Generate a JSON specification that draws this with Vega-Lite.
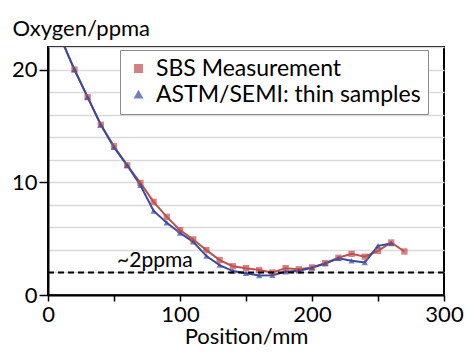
{
  "$schema": "https://vega.github.io/schema/vega-lite/v6.json",
  "width": 396,
  "height": 248,
  "autosize": "none",
  "padding": {"left": 48, "top": 47, "right": 28, "bottom": 59},
  "background": "white",
  "config": {
    "font": "Lato",
    "view": {"stroke": "#000000", "strokeWidth": 2}
  },
  "data": {
    "values": [
      {"position": 10, "oxygen": 22.7, "series": "SBS Measurement"},
      {"position": 20, "oxygen": 20.0, "series": "SBS Measurement"},
      {"position": 30, "oxygen": 17.55, "series": "SBS Measurement"},
      {"position": 40, "oxygen": 15.1, "series": "SBS Measurement"},
      {"position": 50, "oxygen": 13.2, "series": "SBS Measurement"},
      {"position": 60, "oxygen": 11.5, "series": "SBS Measurement"},
      {"position": 70, "oxygen": 9.94, "series": "SBS Measurement"},
      {"position": 80, "oxygen": 8.26, "series": "SBS Measurement"},
      {"position": 90, "oxygen": 6.93, "series": "SBS Measurement"},
      {"position": 100, "oxygen": 5.75, "series": "SBS Measurement"},
      {"position": 110, "oxygen": 4.93, "series": "SBS Measurement"},
      {"position": 120, "oxygen": 3.98, "series": "SBS Measurement"},
      {"position": 130, "oxygen": 3.1, "series": "SBS Measurement"},
      {"position": 140, "oxygen": 2.55, "series": "SBS Measurement"},
      {"position": 150, "oxygen": 2.38, "series": "SBS Measurement"},
      {"position": 160, "oxygen": 2.21, "series": "SBS Measurement"},
      {"position": 170, "oxygen": 2.0, "series": "SBS Measurement"},
      {"position": 180, "oxygen": 2.38, "series": "SBS Measurement"},
      {"position": 190, "oxygen": 2.28, "series": "SBS Measurement"},
      {"position": 200, "oxygen": 2.45, "series": "SBS Measurement"},
      {"position": 210, "oxygen": 2.83, "series": "SBS Measurement"},
      {"position": 220, "oxygen": 3.3, "series": "SBS Measurement"},
      {"position": 230, "oxygen": 3.65, "series": "SBS Measurement"},
      {"position": 240, "oxygen": 3.4, "series": "SBS Measurement"},
      {"position": 250, "oxygen": 3.92, "series": "SBS Measurement"},
      {"position": 260, "oxygen": 4.66, "series": "SBS Measurement"},
      {"position": 270, "oxygen": 3.86, "series": "SBS Measurement"},
      {"position": 10, "oxygen": 22.7, "series": "ASTM/SEMI: thin samples"},
      {"position": 20, "oxygen": 20.0, "series": "ASTM/SEMI: thin samples"},
      {"position": 30, "oxygen": 17.55, "series": "ASTM/SEMI: thin samples"},
      {"position": 40, "oxygen": 15.1, "series": "ASTM/SEMI: thin samples"},
      {"position": 50, "oxygen": 13.1, "series": "ASTM/SEMI: thin samples"},
      {"position": 60, "oxygen": 11.5, "series": "ASTM/SEMI: thin samples"},
      {"position": 70, "oxygen": 9.73, "series": "ASTM/SEMI: thin samples"},
      {"position": 80, "oxygen": 7.46, "series": "ASTM/SEMI: thin samples"},
      {"position": 90, "oxygen": 6.4, "series": "ASTM/SEMI: thin samples"},
      {"position": 100, "oxygen": 5.5, "series": "ASTM/SEMI: thin samples"},
      {"position": 110, "oxygen": 4.72, "series": "ASTM/SEMI: thin samples"},
      {"position": 120, "oxygen": 3.45, "series": "ASTM/SEMI: thin samples"},
      {"position": 130, "oxygen": 2.65, "series": "ASTM/SEMI: thin samples"},
      {"position": 140, "oxygen": 2.12, "series": "ASTM/SEMI: thin samples"},
      {"position": 150, "oxygen": 1.92, "series": "ASTM/SEMI: thin samples"},
      {"position": 160, "oxygen": 1.73, "series": "ASTM/SEMI: thin samples"},
      {"position": 170, "oxygen": 1.75, "series": "ASTM/SEMI: thin samples"},
      {"position": 180, "oxygen": 2.06, "series": "ASTM/SEMI: thin samples"},
      {"position": 190, "oxygen": 2.15, "series": "ASTM/SEMI: thin samples"},
      {"position": 200, "oxygen": 2.42, "series": "ASTM/SEMI: thin samples"},
      {"position": 210, "oxygen": 2.8, "series": "ASTM/SEMI: thin samples"},
      {"position": 220, "oxygen": 3.25, "series": "ASTM/SEMI: thin samples"},
      {"position": 230, "oxygen": 3.04, "series": "ASTM/SEMI: thin samples"},
      {"position": 240, "oxygen": 2.89, "series": "ASTM/SEMI: thin samples"},
      {"position": 250, "oxygen": 4.36, "series": "ASTM/SEMI: thin samples"},
      {"position": 260, "oxygen": 4.57, "series": "ASTM/SEMI: thin samples"}
    ]
  },
  "resolve": {"axis": {"y": "independent"}},
  "encoding": {
    "x": {
      "field": "position",
      "type": "quantitative",
      "scale": {"domain": [0, 300], "nice": false},
      "axis": {
        "values": [0, 50, 100, 150, 200, 250, 300],
        "labelExpr": "datum.value % 100 === 0 ? datum.label : ''",
        "labelOverlap": false,
        "grid": false,
        "domainColor": "#000000",
        "domainWidth": 2,
        "tickColor": "#000000",
        "tickWidth": 1.5,
        "tickSize": 6,
        "labelFontSize": 22,
        "labelColor": "#000000",
        "labelPadding": 3,
        "labelFlush": false,
        "title": "Position/mm",
        "titleFontSize": 22,
        "titleFontWeight": "normal",
        "titleColor": "#000000",
        "titlePadding": 1
      }
    },
    "y": {
      "field": "oxygen",
      "type": "quantitative",
      "scale": {"domain": [0, 22], "nice": false},
      "axis": {
        "orient": "left",
        "values": [0, 2, 4, 6, 8, 10, 12, 14, 16, 18, 20, 22],
        "labels": false,
        "ticks": false,
        "domain": false,
        "gridColor": "#d9d9d9",
        "gridWidth": 1.5,
        "title": null
      }
    },
    "color": {
      "field": "series",
      "type": "nominal",
      "title": null,
      "scale": {"domain": ["SBS Measurement", "ASTM/SEMI: thin samples"], "range": ["#c0504d", "#3a4aa0"]},
      "legend": {
        "orient": "none",
        "legendX": 72,
        "legendY": 3,
        "padding": 7,
        "fillColor": "white",
        "strokeColor": "#8c8c8c",
        "labelFontSize": 23,
        "labelColor": "#000000",
        "labelLimit": 400,
        "labelOffset": 6,
        "symbolSize": 55,
        "rowPadding": 2
      }
    }
  },
  "layer": [
    {
      "mark": {"type": "line", "strokeWidth": 2, "clip": true}
    },
    {
      "mark": {"type": "point", "filled": true, "size": 40, "clip": true},
      "encoding": {
        "y": {
          "field": "oxygen",
          "type": "quantitative",
          "axis": {
            "orient": "left",
            "values": [0, 10, 20],
            "grid": false,
            "labelOverlap": false,
            "domainColor": "#000000",
            "domainWidth": 2,
            "tickColor": "#000000",
            "tickWidth": 1.5,
            "tickSize": 9,
            "labelFontSize": 22,
            "labelColor": "#000000",
            "labelPadding": 2,
            "labelFlush": false,
            "title": "Oxygen/ppma",
            "titleAngle": 0,
            "titleAlign": "left",
            "titleBaseline": "alphabetic",
            "titleX": -36,
            "titleY": -12,
            "titleFontSize": 22,
            "titleFontWeight": "normal",
            "titleColor": "#000000"
          }
        },
        "shape": {
          "field": "series",
          "type": "nominal",
          "title": null,
          "scale": {"domain": ["SBS Measurement", "ASTM/SEMI: thin samples"], "range": ["square", "triangle-up"]},
          "legend": {
            "orient": "none",
            "legendX": 72,
            "legendY": 3,
            "padding": 7,
            "fillColor": "white",
            "strokeColor": "#8c8c8c",
            "labelFontSize": 23,
            "labelColor": "#000000",
            "labelLimit": 400,
            "labelOffset": 6,
            "symbolSize": 55,
            "rowPadding": 2
          }
        }
      }
    },
    {
      "data": {"values": [{"oxygen": 2, "label": "~2ppma", "position": 81}]},
      "mark": {"type": "rule", "strokeDash": [6, 4], "strokeWidth": 2, "color": "#000000"},
      "encoding": {"x": null, "color": null, "y": {"field": "oxygen", "type": "quantitative", "axis": null}}
    },
    {
      "data": {"values": [{"oxygen": 2, "label": "~2ppma", "position": 81}]},
      "mark": {"type": "text", "fontSize": 21, "baseline": "bottom", "align": "center", "dy": -1, "color": "#000000"},
      "encoding": {
        "color": null,
        "y": {"field": "oxygen", "type": "quantitative", "axis": null},
        "text": {"field": "label"}
      }
    }
  ]
}
